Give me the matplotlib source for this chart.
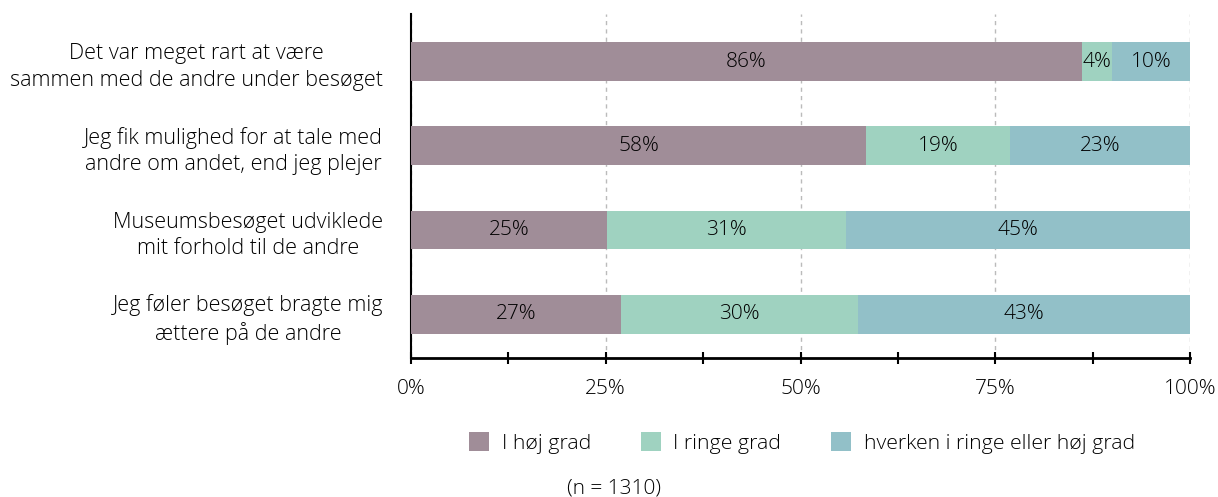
import matplotlib
matplotlib.use("Agg")
import matplotlib.pyplot as plt
import numpy as np
from matplotlib.patches import Patch

plt.rcParams['font.family'] = ['Open Sans', 'DejaVu Sans']
plt.rcParams['font.weight'] = 'light'

categories = [
    "Det var meget rart at være\nsammen med de andre under besøget",
    "Jeg fik mulighed for at tale med\nandre om andet, end jeg plejer",
    "Museumsbesøget udviklede\nmit forhold til de andre",
    "Jeg føler besøget bragte mig\nættere på de andre",
]
series_names = ["I høj grad", "I ringe grad", "hverken i ringe eller høj grad"]
hoj = [86.1, 58.4, 25.2, 27.0]
ringe = [3.9, 18.5, 30.6, 30.4]
hverken = [10.0, 23.1, 44.2, 42.6]
hoj_labels = ["86%", "58%", "25%", "27%"]
ringe_labels = ["4%", "19%", "31%", "30%"]
hverken_labels = ["10%", "23%", "45%", "43%"]
xticks = [0, 25, 50, 75, 100]
xtick_labels = ["0%", "25%", "50%", "75%", "100%"]
note = "(n = 1310)"

colors = ["#A08D98", "#9FD2C0", "#92C0C8"]
FS = 15

fig = plt.figure(figsize=(12.18, 4.97), dpi=100)
ax = fig.add_axes([411/1218, 1 - 358/497, 779/1218, (358 - 14)/497])

y = np.arange(len(categories))
left = np.zeros(len(categories))
for vals, labs, col in zip([hoj, ringe, hverken], [hoj_labels, ringe_labels, hverken_labels], colors):
    vals = np.array(vals)
    ax.barh(y, vals, left=left, height=0.46, color=col, zorder=3)
    for yi, l, v, t in zip(y, left, vals, labs):
        ax.text(l + v / 2, yi, t, ha='center', va='center', fontsize=FS, color='black', zorder=4)
    left = left + vals

ax.set_xlim(0, 100)
ax.set_ylim(3.52, -0.565)
ax.set_yticks(y)
ax.set_yticklabels(categories, fontsize=15.5, multialignment='center', linespacing=1.35)
ax.tick_params(axis='y', length=0, pad=20)
ax.set_xticks(xticks)
ax.set_xticklabels(xtick_labels, fontsize=FS)
ax.set_xticks([12.5, 37.5, 62.5, 87.5], minor=True)
ax.tick_params(axis='x', which='both', direction='inout', length=8, width=1.5, pad=11)
ax.grid(axis='x', linestyle=(0, (3, 3)), color='#BBBBBB', linewidth=1, zorder=0)
ax.set_axisbelow(True)
for s in ['top', 'right']:
    ax.spines[s].set_visible(False)
ax.spines['left'].set_linewidth(1.5)
ax.spines['bottom'].set_linewidth(2)

handles = [Patch(facecolor=c, label=n) for c, n in zip(colors, series_names)]
fig.legend(handles=handles, loc='center', bbox_to_anchor=(802/1218, 1 - 443/497), ncol=3,
           frameon=False, fontsize=15.3, handlelength=0.95, handleheight=0.95,
           columnspacing=2.35, handletextpad=0.58)
fig.text(614/1218, 1 - 488/497, note, ha='center', va='center', fontsize=FS)

fig.savefig("out.png", dpi=100)
